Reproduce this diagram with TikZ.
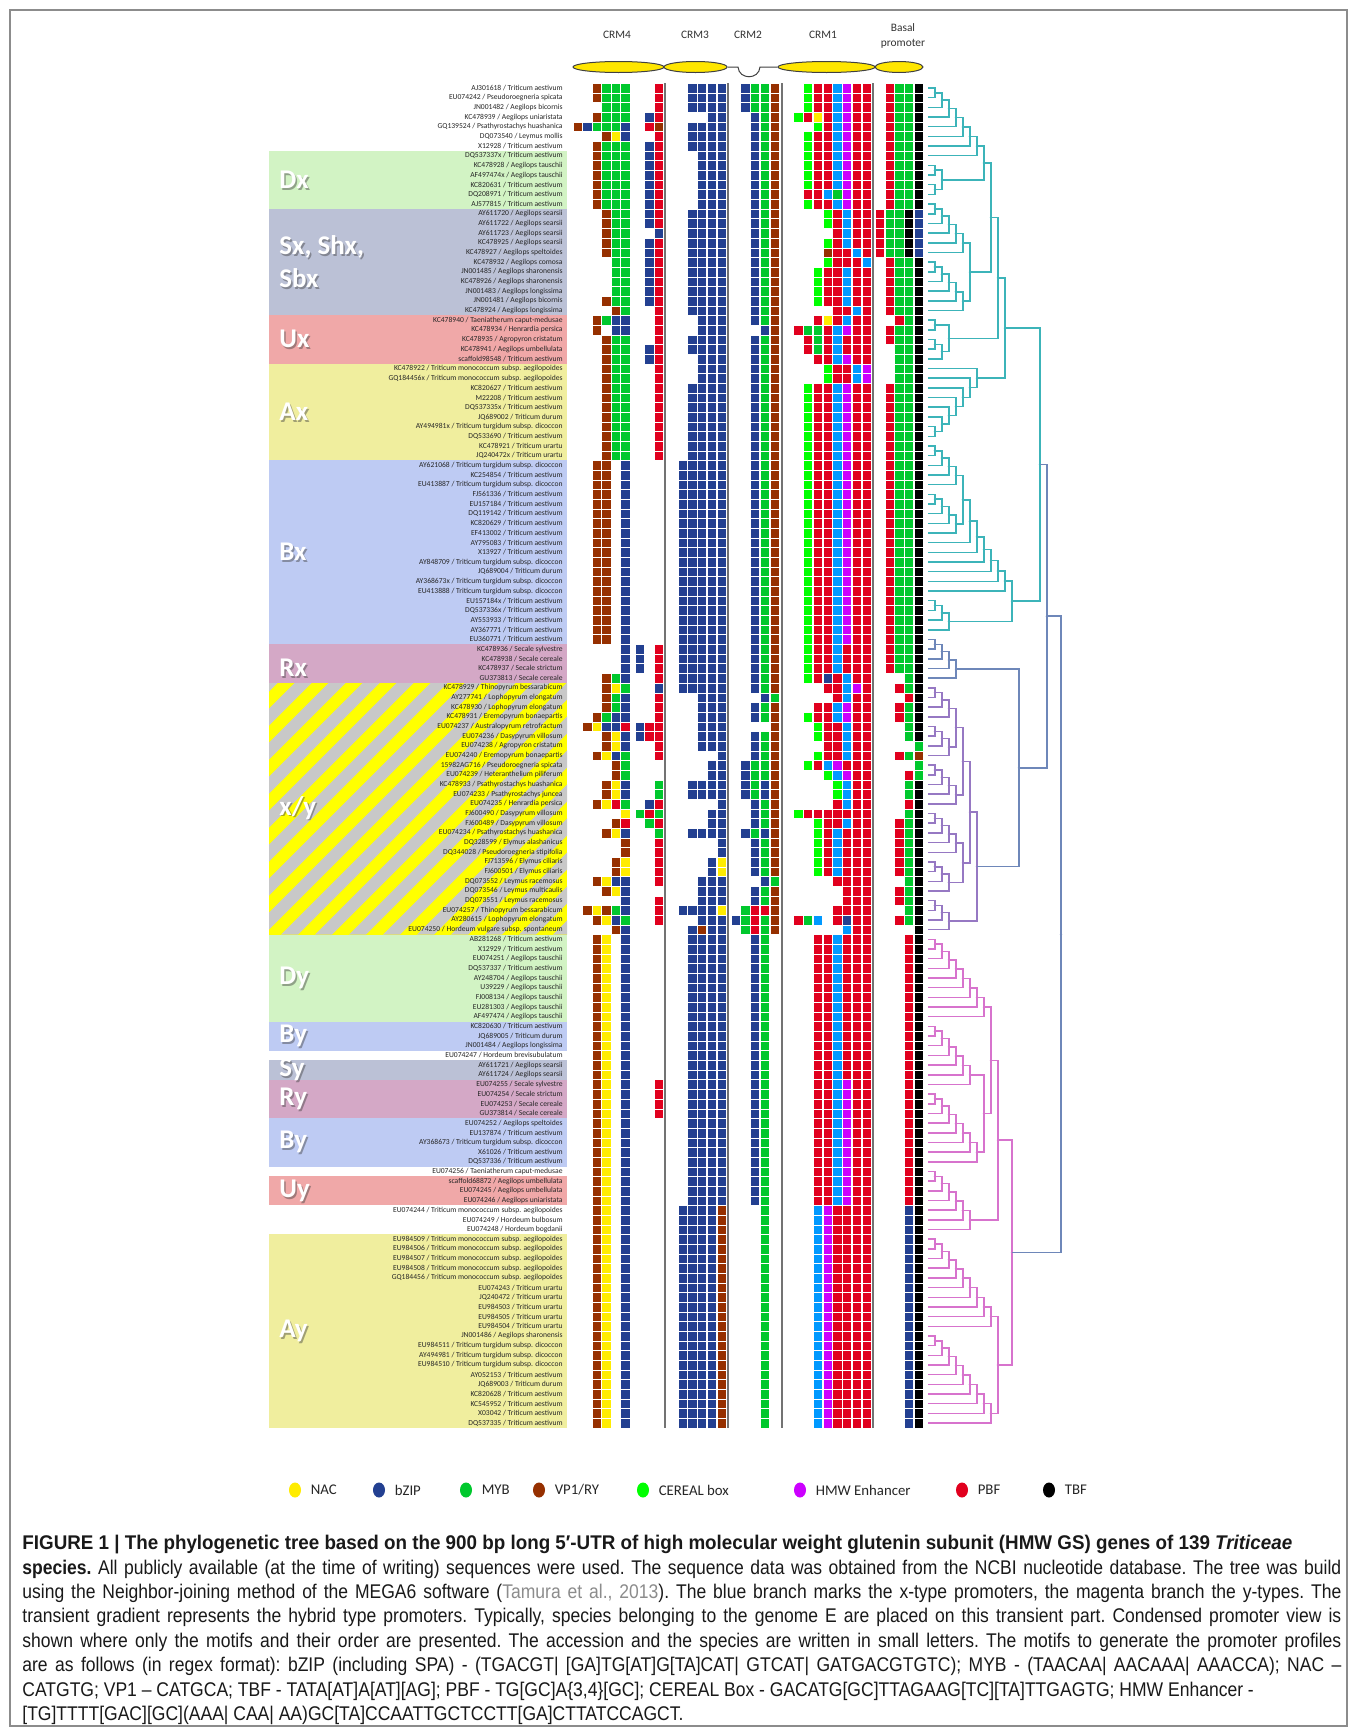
\documentclass[tikz,border=0pt]{standalone}
\usepackage{fontspec}
\setmainfont{Carlito}
\newfontfamily\capfont[FakeStretch=0.885]{Liberation Sans}
\newfontfamily\capfontb[FakeStretch=0.95]{Liberation Sans}
\usetikzlibrary{calc, positioning, shapes.geometric}

%% motif colours (one letter each, used by \motifrow)
\definecolor{mY}{RGB}{255,236,0}   % NAC
\definecolor{mB}{RGB}{35,64,145}   % bZIP
\definecolor{mG}{RGB}{0,200,45}    % MYB
\definecolor{mV}{RGB}{150,48,0}    % VP1/RY
\definecolor{mC}{RGB}{0,255,0}     % CEREAL box
\definecolor{mM}{RGB}{204,0,255}   % HMW Enhancer
\definecolor{mR}{RGB}{225,0,30}    % PBF
\definecolor{mK}{RGB}{0,0,0}       % TBF
\definecolor{mL}{RGB}{0,153,255}
%% group bands
\definecolor{bandD}{RGB}{210,243,196}
\definecolor{bandS}{RGB}{187,193,214}
\definecolor{bandU}{RGB}{240,168,168}
\definecolor{bandA}{RGB}{240,238,158}
\definecolor{bandB}{RGB}{190,203,243}
\definecolor{bandR}{RGB}{212,168,198}
\definecolor{stripeY}{RGB}{255,255,0}
\definecolor{stripeG}{RGB}{200,200,200}
%% tree
\definecolor{treeT}{RGB}{60,180,185}
\definecolor{treeS}{RGB}{110,135,185}
\definecolor{treeP}{RGB}{150,120,195}
\definecolor{treeM}{RGB}{215,115,205}
\definecolor{crmyel}{RGB}{255,230,0}

%% column left edges of the motif matrix (CRM4 | CRM3 | CRM2 | CRM1 | basal)
\def\colxs{{573,582.5,592,601.5,611,620.5,635,644.5,654,
            678,687.5,697,707,717,
            731,740.5,750,760,770,
            784,793.5,803,813,823,832.5,842,852,862,
            875,885,894.5,904,914}}

\newcommand\motifrow[2]{%
  \pgfmathsetmacro\rowtop{83.2+9.674*(#1-1)}%
  \def\colno{0}%
  \edef\cellstr{#2}%
  \expandafter\parsecells\cellstr\relax}
\def\parsecells#1{%
  \ifx#1\relax\else
    \pgfmathtruncatemacro\colno{\colno+1}%
    \if.#1\else
      \pgfmathsetmacro\cx{\colxs[\colno-1]}%
      \fill[m#1, cellsep] (\cx,\rowtop) rectangle ++(9.5,9.674);
    \fi
    \expandafter\parsecells
  \fi}

%% tree: join two children at a level
\newcommand\clade[5]{%
  \coordinate (#1t) at ({928+7*(#2)},0);
  \draw[#5] (#3) -| (#1t |- #4) -- (#4);
  \coordinate (#1) at ($(#1t |- #3)!0.5!(#1t |- #4)$);
  \fill[#5] (#1) circle (1.3);}
\newcommand\ladder[5]{%
  \pgfmathtruncatemacro\lsec{#2+1}%
  \clade{#1}{#4}{l#2}{l\lsec}{#5}%
  \pgfmathtruncatemacro\lnext{#2+2}%
  \ifnum\lnext>#3\relax\else
    \foreach \k [count=\n] in {\lnext,...,#3}{\clade{#1}{#4+\n}{#1}{l\k}{#5}}%
  \fi}
\newcommand\rladder[5]{%
  \pgfmathtruncatemacro\lsec{#3-1}%
  \clade{#1}{#4}{l\lsec}{l#3}{#5}%
  \pgfmathtruncatemacro\lnext{#3-2}%
  \ifnum\lnext<#2\relax\else
    \foreach \k [count=\n] in {\lnext,...,#2}{\clade{#1}{#4+\n}{l\k}{#1}{#5}}%
  \fi}
\newcommand\chain[5]{%
  \foreach \k [count=\n from 0] in {#2,...,#3}{\clade{#1}{#4+\n}{#1}{l\k}{#5}}}

\begin{document}
\begin{tikzpicture}[x=0.5pt, y=-0.5pt,
  splbl/.style={anchor=east, inner sep=0pt, font=\fontsize{3.8}{4.5}\selectfont, text=black!85},
  grp/.style={anchor=west, inner sep=0pt, align=left,
              font=\fontsize{13.5}{16.5}\selectfont\bfseries, text=white},
  grpsh/.style={grp, text=black!75, opacity=0.45},
  crmell/.style={ellipse, draw=black!75, fill=crmyel, line width=0.5pt, inner sep=0pt},
  crmlbl/.style={align=center, inner sep=0pt, font=\fontsize{5.7}{7.5}\selectfont, text=black!80},
  cellsep/.style={draw=white, line width=0.15pt},
  sepline/.style={draw=black!55, line width=1pt},
  tx/.style={treeT, line width=0.75pt},
  sx/.style={treeS, line width=0.75pt},
  px/.style={treeP, line width=0.75pt},
  my/.style={treeM, line width=0.75pt},
  legdot/.style={ellipse, minimum width=6pt, minimum height=7.5pt, inner sep=0pt},
  legtxt/.style={inner sep=0pt, font=\fontsize{7.4}{9}\selectfont, text=black!85},
  captxt/.style={anchor=north west, inner sep=0pt, text width=659.5pt, align=justify,
                 font=\capfont\fontsize{9.9}{12.2}\selectfont\frenchspacing, text=black!90}
]
\useasboundingbox (0,0) rectangle (1357,1735);
\fill[white] (0,0) rectangle (1357,1735);
\draw[black!45, line width=0.6pt] (10,10) rectangle (1347,1726);

%% --- header: CRM modules ---------------------------------------
\node[crmell, minimum width=45.5pt, minimum height=5.5pt] (e4) at (618.5,67) {};
\node[crmell, minimum width=31.5pt, minimum height=5.5pt] (e3) at (695.5,67) {};
\node[crmell, minimum width=48.5pt, minimum height=5.5pt] (e1) at (826.5,67) {};
\node[crmell, minimum width=24pt,   minimum height=5.5pt] (eb) at (899,67) {};
\draw[black!75, line width=0.5pt] (e3.east) -- (738,67)
  .. controls (739,80) and (759,80) .. (760,67) -- (e1.west);
\node[crmlbl] (t4) at (617,35) {CRM4};
\node[crmlbl] (t3) at (695,35) {CRM3};
\node[crmlbl] (t2) at (748,35) {CRM2};
\node[crmlbl] (t1) at (823,35) {CRM1};
\node[crmlbl] (tb) at (903,35.5) {Basal\\promoter};

%% --- group bands ---------------------------------------------------
\foreach \ra/\rb/\c in {8/13/bandD, 14/24/bandS, 25/29/bandU, 30/39/bandA,
                        40/58/bandB, 59/62/bandR, 89/97/bandD, 98/100/bandB,
                        102/103/bandS, 104/107/bandR, 108/112/bandB,
                        114/116/bandU, 120/139/bandA}
  \fill[\c] (269,{83.2+9.674*(\ra-1)}) rectangle (567,{83.2+9.674*\rb});
\begin{scope}
  \clip (269,683.0) rectangle (567,934.5);
  \fill[stripeY] (269,683.0) rectangle (567,934.5);
  \foreach \k in {0,...,17}
    \fill[stripeG] ({9+34*\k},934.5) -- ++(17,0) -- ++(251.5,-251.5) -- ++(-17,0) -- cycle;
\end{scope}

\foreach \n/\y/\t in {gDx/180/Dx, gSx/262/{Sx, Shx,\\Sbx}, gUx/339/Ux, gAx/412/Ax,
                      gBx/552/Bx, gRx/668/Rx, gXY/808/{x/y}, gDy/978/Dy, gBy/1036/By,
                      gSy/1070/Sy, gRy/1099/Ry, gBz/1142/By, gUy/1191/Uy, gAy/1331/Ay}
{
  \node[grpsh] at (280.5,\y+1.5) {\t};
  \node[grp] (\n) at (279,\y) {\t};
}

%% --- accession / species ------------------------------------------
\foreach \lbl [count=\i] in {
 {AJ301618 / Triticum aestivum}, {EU074242 / Pseudoroegneria spicata},
 {JN001482 / Aegilops bicornis}, {KC478939 / Aegilops uniaristata},
 {GQ139524 / Psathyrostachys huashanica}, {DQ073540 / Leymus mollis},
 {X12928 / Triticum aestivum}, {DQ537337x / Triticum aestivum},
 {KC478928 / Aegilops tauschii}, {AF497474x / Aegilops tauschii},
 {KC820631 / Triticum aestivum}, {DQ208971 / Triticum aestivum},
 {AJ577815 / Triticum aestivum}, {AY611720 / Aegilops searsii},
 {AY611722 / Aegilops searsii}, {AY611723 / Aegilops searsii},
 {KC478925 / Aegilops searsii}, {KC478927 / Aegilops speltoides},
 {KC478932 / Aegilops comosa}, {JN001485 / Aegilops sharonensis},
 {KC478926 / Aegilops sharonensis}, {JN001483 / Aegilops longissima},
 {JN001481 / Aegilops bicornis}, {KC478924 / Aegilops longissima},
 {KC478940 / Taeniatherum caput-medusae}, {KC478934 / Henrardia persica},
 {KC478935 / Agropyron cristatum}, {KC478941 / Aegilops umbellulata},
 {scaffold98548 / Triticum aestivum},
 {KC478922 / Triticum monococcum subsp. aegilopoides},
 {GQ184456x / Triticum monococcum subsp. aegilopoides},
 {KC820627 / Triticum aestivum}, {M22208 / Triticum aestivum},
 {DQ537335x / Triticum aestivum}, {JQ689002 / Triticum durum},
 {AY494981x / Triticum turgidum subsp. dicoccon}, {DQ533690 / Triticum aestivum},
 {KC478921 / Triticum urartu}, {JQ240472x / Triticum urartu},
 {AY621068 / Triticum turgidum subsp. dicoccon}, {KC254854 / Triticum aestivum},
 {EU413887 / Triticum turgidum subsp. dicoccon}, {FJ561336 / Triticum aestivum},
 {EU157184 / Triticum aestivum}, {DQ119142 / Triticum aestivum},
 {KC820629 / Triticum aestivum}, {EF413002 / Triticum aestivum},
 {AY795083 / Triticum aestivum}, {X13927 / Triticum aestivum},
 {AY848709 / Triticum turgidum subsp. dicoccon}, {JQ689004 / Triticum durum},
 {AY368673x / Triticum turgidum subsp. dicoccon},
 {EU413888 / Triticum turgidum subsp. dicoccon}, {EU157184x / Triticum aestivum},
 {DQ537336x / Triticum aestivum}, {AY553933 / Triticum aestivum},
 {AY367771 / Triticum aestivum}, {EU360771 / Triticum aestivum},
 {KC478936 / Secale sylvestre}, {KC478938 / Secale cereale},
 {KC478937 / Secale strictum}, {GU373813 / Secale cereale},
 {KC478929 / Thinopyrum bessarabicum}, {AY277741 / Lophopyrum elongatum},
 {KC478930 / Lophopyrum elongatum}, {KC478931 / Eremopyrum bonaepartis},
 {EU074237 / Australopyrum retrofractum}, {EU074236 / Dasypyrum villosum},
 {EU074238 / Agropyron cristatum}, {EU074240 / Eremopyrum bonaepartis},
 {15982AG716 / Pseudoroegneria spicata}, {EU074239 / Heteranthelium piliferum},
 {KC478933 / Psathyrostachys huashanica}, {EU074233 / Psathyrostachys juncea},
 {EU074235 / Henrardia persica}, {FJ600490 / Dasypyrum villosum},
 {FJ600489 / Dasypyrum villosum}, {EU074234 / Psathyrostachys huashanica},
 {DQ328599 / Elymus alashanicus}, {DQ344028 / Pseudoroegneria stipifolia},
 {FJ713596 / Elymus ciliaris}, {FJ600501 / Elymus ciliaris},
 {DQ073552 / Leymus racemosus}, {DQ073546 / Leymus multicaulis},
 {DQ073551 / Leymus racemosus}, {EU074257 / Thinopyrum bessarabicum},
 {AY280615 / Lophopyrum elongatum}, {EU074250 / Hordeum vulgare subsp. spontaneum},
 {AB281268 / Triticum aestivum}, {X12929 / Triticum aestivum},
 {EU074251 / Aegilops tauschii}, {DQ537337 / Triticum aestivum},
 {AY248704 / Aegilops tauschii}, {U39229 / Aegilops tauschii},
 {FJ008134 / Aegilops tauschii}, {EU281303 / Aegilops tauschii},
 {AF497474 / Aegilops tauschii}, {KC820630 / Triticum aestivum},
 {JQ689005 / Triticum durum}, {JN001484 / Aegilops longissima},
 {EU074247 / Hordeum brevisubulatum}, {AY611721 / Aegilops searsii},
 {AY611724 / Aegilops searsii}, {EU074255 / Secale sylvestre},
 {EU074254 / Secale strictum}, {EU074253 / Secale cereale},
 {GU373814 / Secale cereale}, {EU074252 / Aegilops speltoides},
 {EU137874 / Triticum aestivum}, {AY368673 / Triticum turgidum subsp. dicoccon},
 {X61026 / Triticum aestivum}, {DQ537336 / Triticum aestivum},
 {EU074256 / Taeniatherum caput-medusae}, {scaffold68872 / Aegilops umbellulata},
 {EU074245 / Aegilops umbellulata}, {EU074246 / Aegilops uniaristata},
 {EU074244 / Triticum monococcum subsp. aegilopoides},
 {EU074249 / Hordeum bulbosum}, {EU074248 / Hordeum bogdanii},
 {EU984509 / Triticum monococcum subsp. aegilopoides},
 {EU984506 / Triticum monococcum subsp. aegilopoides},
 {EU984507 / Triticum monococcum subsp. aegilopoides},
 {EU984508 / Triticum monococcum subsp. aegilopoides},
 {GQ184456 / Triticum monococcum subsp. aegilopoides},
 {EU074243 / Triticum urartu}, {JQ240472 / Triticum urartu},
 {EU984503 / Triticum urartu}, {EU984505 / Triticum urartu},
 {EU984504 / Triticum urartu}, {JN001486 / Aegilops sharonensis},
 {EU984511 / Triticum turgidum subsp. dicoccon},
 {AY494981 / Triticum turgidum subsp. dicoccon},
 {EU984510 / Triticum turgidum subsp. dicoccon}, {AY052153 / Triticum aestivum},
 {JQ689003 / Triticum durum}, {KC820628 / Triticum aestivum},
 {KC545952 / Triticum aestivum}, {X03042 / Triticum aestivum},
 {DQ537335 / Triticum aestivum}}
{
  \node[splbl] (s\i) at (563,{88+9.674*(\i-1)}) {\lbl};
  \coordinate (l\i) at (928,{88+9.674*(\i-1)});
}

%% --- motif matrix --------------------------------------------------
\foreach \ra/\rb/\s in {
  1/2/{..VGGG..R .BBBB .BGGV ..CRRLMRR .RGGK},
  3/3/{...GGG..R .BBBB .BGGV ..CRRLMRR .RGGK},
  4/4/{..VGGG.BR ...BB ..BGV .CRYRLMRR .RGGK},
  5/5/{VBGGGB.RV .BBBB ..BGV ...CRLMRR .RGGK},
  6/6/{...VYB..R .BBBB ..BGV ..CRRLMRR .RGGK},
  7/7/{..VGGG.BR .BBBB ..BGV ..CRRLMRR .RGGK},
  8/11/{..VGGG.BR ..BBB ..BGV ..CRRLMRR .RGGK},
  12/12/{..VGGG.BR ..BBB ..BGV ..RRLGMRR .RGGK},
  13/13/{..VGGG.BR ..BBB ..BGV ..CRRLMRR .RGGK},
  14/15/{...VGG.BR .BBBB ..BGV ....CRLRR RGGKB},
  16/16/{...VGG..B .BBBB ..BGV .....RLRR RGGKB},
  17/17/{...VGG.BR .BBBB ..BGV ....CRLRR RGGKB},
  18/18/{...VGG.BR .BBBB ..BGV ....VRRLR RGGKB},
  19/19/{....GG.BR .BBBB ..BGV ....CRRRL .RGGK},
  20/22/{....GG.BR .BBBB ..BGV ...CRRLRR .RGGK},
  23/23/{...VGG.BR .BBBB ..BGV ...CRRLRR .RGGK},
  24/24/{....VG..R .BBBB ..BGV .....RRLR .RGGK},
  25/25/{..VGBB..R ..BBB ..BGV ...RYRLRR ..RGK},
  26/26/{..V.BB..R ..BBB ...BV .RGGRLMRR .RGGK},
  27/27/{...VGG..R .BBBB ..BGV ..RGRLRRR .RGGK},
  28/28/{...VGG.BR .BBBB ..BGV ..RGRLRRR ..GGK},
  29/29/{...VGG.BR ..BBB ..BGV ...RRLMRR ..GGK},
  30/31/{...VGG..R ..BBB ..BGV ....CRRLM ..GGK},
  32/39/{...VGG..R .BBBB ..BGV ..CRRLMRR .RGGK},
  40/58/{..VV.B... BBBBB ..BGV ..CRRLMRR .RGGK},
  59/61/{.....BB.R BBBBB ..BGV ..CRRLRRR .RGGK},
  62/62/{...VGB..R BBBBB ..BGV ..CRBRLRR ...GK},
  63/63/{...VYG..B BBBBB ..BGV ....RRLMR ..RGK},
  64/64/{...VGB..R ..BBB ...BG .....RLRR ...RK},
  65/65/{...VGB..R ..BBB ..BGV ...RRLMRR ..RGK},
  66/66/{..VGBB..R ..BBB ..BGV ..CRRLMRR ..RGK},
  67/67/{.VYBBRBRR ..BBB ....V ...CRRLRR ...GK},
  68/68/{...VYBBRR ..BBB ..BGV ...CRRLRR ...GK},
  69/69/{...VYB..R ..BBB ..BGV ....RRLRR ....G},
  70/70/{..VYBG..R ....B ..BGV ...CRRLRR ..RGV},
  71/71/{....VG... ...BB .BGGV ..CRLMRRR ....G},
  72/72/{....VG... ...BB .BGGV ....CLMRR ...RG},
  73/74/{...VYB..G .BBBB .BGBV .....CLRR ...GK},
  75/75/{..VYRG.BR ....B ..BGV .....RLRR ...RK},
  76/76/{.....YGRG ...BB ..BGV .CRRRRRRR ...GK},
  77/77/{....VR.GR ...BB ..BGV ...CRRLRR ..RGK},
  78/78/{...VYB..G .BBBB .BGBV ...CRLRRR ..RGK},
  79/80/{.....V..R ....B ..BGV ...CRLRRR ..RGK},
  81/82/{....VY..R ...BY ..BGV ...CRLRRR ..RGK},
  83/83/{..VYBB..R ..BBB ...BG .....RRRR ...GK},
  84/84/{...VYB... ..BBB ..BGV ......RRR ..RGK},
  85/85/{.....B..R ..BBB ..BGV ......RRR ..RGK},
  86/86/{.VYVGB..R BBBBY .GRRV .....RRRR ...GK},
  87/87/{..VYBG..R ..BBB BGRGV .RGL.RBRR ..RGK},
  88/88/{....VB... .BVBB .GRGV ......LRR ....K},
  89/103/{..VY.B... .BBBB ..BG. ...RRLRRR ...RK},
  104/107/{..VY.B..R .BBBB ..BG. ...RRLMRR ...RK},
  108/116/{..VY.B... .BBBB ..BG. ...RRLMRR ...RK},
  117/139/{..VY.B... BBBBV ...G. ...LMRRRR ...BK}}
{
  \foreach \r in {\ra,...,\rb} {\motifrow{\r}{\s}}
}
\foreach \x in {665,728,782,873}
  \draw[sepline] (\x,83.2) -- (\x,1428);

%% --- tree ------------------------------------------------------------
\ladder{ta}{1}{8}{1}{tx}
\clade{tb1}{1}{l9}{l10}{tx}
\clade{tb2}{1}{l11}{l12}{tx}
\clade{tb}{2}{tb1}{tb2}{tx}
\clade{tab}{8}{ta}{tb}{tx}
\ladder{tc1}{13}{18}{1}{tx}
\ladder{tc2}{19}{24}{1}{tx}
\clade{tc}{6}{tc1}{tc2}{tx}
\clade{tabc}{9}{tab}{tc}{tx}
\clade{td1}{1}{l25}{l26}{tx}
\ladder{td2}{27}{29}{1}{tx}
\clade{td}{3}{td1}{td2}{tx}
\clade{tabcd}{10}{tabc}{td}{tx}
\rladder{te}{30}{37}{1}{tx}
\clade{tx1}{11}{tabcd}{te}{tx}
\ladder{tf1}{38}{42}{1}{tx}
\ladder{tf2}{43}{47}{1}{tx}
\clade{tf}{5}{tf1}{tf2}{tx}
\chain{tf}{48}{53}{6}{tx}
\ladder{tg}{54}{57}{1}{tx}
\clade{tfg}{12}{tf}{tg}{tx}
\clade{tX}{16}{tx1}{tfg}{tx}
\ladder{m1}{58}{62}{1}{sx}
\ladder{m2}{63}{66}{1}{px}
\ladder{m3}{67}{70}{1}{px}
\clade{m23}{4}{m2}{m3}{px}
\ladder{m4}{71}{75}{1}{px}
\clade{m234}{5}{m23}{m4}{px}
\ladder{m5}{76}{80}{1}{px}
\ladder{m6}{81}{84}{1}{px}
\clade{m56}{5}{m5}{m6}{px}
\clade{m26}{6}{m234}{m56}{px}
\ladder{m7}{85}{88}{1}{px}
\clade{mP}{7}{m26}{m7}{px}
\clade{mM}{13}{m1}{mP}{sx}
\clade{xAll}{17}{tX}{mM}{sx}
\ladder{y1}{89}{97}{1}{my}
\ladder{y2}{98}{104}{1}{my}
\ladder{y3}{105}{112}{1}{my}
\clade{y23}{8}{y2}{y3}{my}
\clade{y123}{9}{y1}{y23}{my}
\ladder{y4}{113}{119}{1}{my}
\clade{y1234}{10}{y123}{y4}{my}
\ladder{y5}{120}{129}{1}{my}
\ladder{y6}{130}{139}{1}{my}
\clade{y56}{10}{y5}{y6}{my}
\clade{yAll}{12}{y1234}{y56}{my}
\clade{root}{19}{xAll}{yAll}{sx}

%% --- legend ----------------------------------------------------------
\foreach \x/\c/\t [count=\i] in {295/mY/NAC, 379/mB/bZIP, 466/mG/MYB, 539/mV/{VP1/RY},
                                  643/mC/{CEREAL box}, 800/mM/{HMW Enhancer},
                                  962/mR/PBF, 1049/mK/TBF}
{
  \node[legdot, fill=\c] (k\i) at (\x,1490) {};
  \node[legtxt, right=4.5pt of k\i] (kt\i) {\t};
}

%% --- caption ---------------------------------------------------------
\node[captxt] (cap) at (22,1535) {%
{\capfontb\bfseries FIGURE 1 | The phylogenetic tree based on the 900 bp long 5′-UTR of high molecular weight glutenin subunit (HMW GS) genes of 139 \textit{Triticeae}}\newline
\textbf{species.} All publicly available (at the time of writing) sequences were used. The sequence data was obtained from the NCBI nucleotide database. The tree was build\linebreak
using the Neighbor-joining method of the MEGA6 software ({\color{black!45}Tamura et al., 2013}). The blue branch marks the x-type promoters, the magenta branch the y-types. The\linebreak
transient gradient represents the hybrid type promoters. Typically, species belonging to the genome E are placed on this transient part. Condensed promoter view is\linebreak
shown where only the motifs and their order are presented. The accession and the species are written in small letters. The motifs to generate the promoter profiles\linebreak
are as follows (in regex format): bZIP (including SPA) - (TGACGT| [GA]TG[AT]G[TA]CAT| GTCAT| GATGACGTGTC); MYB - (TAACAA| AACAAA| AAACCA); NAC –\linebreak
CATGTG; VP1 – CATGCA; TBF - TATA[AT]A[AT][AG]; PBF - TG[GC]A\{3,4\}[GC]; CEREAL Box - GACATG[GC]TTAGAAG[TC][TA]TTGAGTG; HMW Enhancer -\newline
{}[TG]TTTT[GAC][GC](AAA| CAA| AA)GC[TA]CCAATTGCTCCTT[GA]CTTATCCAGCT.};
\end{tikzpicture}
\end{document}
